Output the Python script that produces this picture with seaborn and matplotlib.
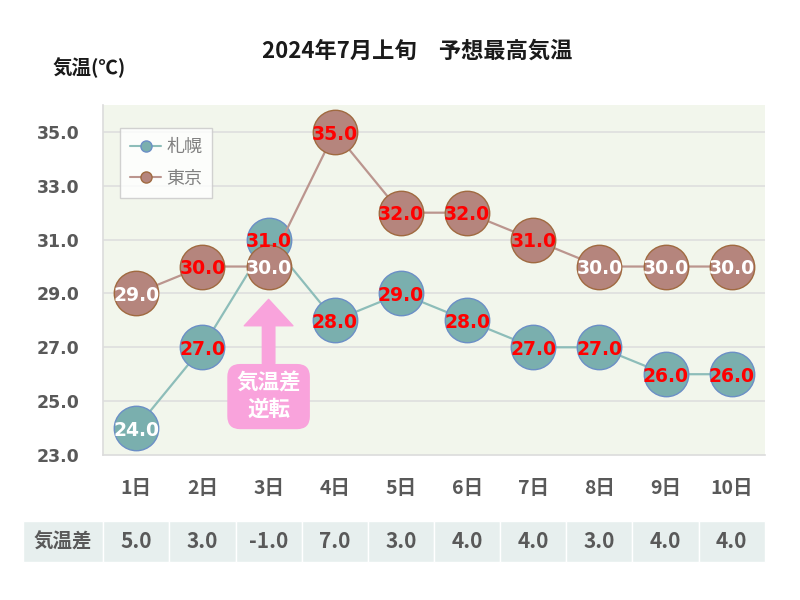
import matplotlib
matplotlib.use("Agg")
import matplotlib.pyplot as plt
import matplotlib.transforms as mtransforms
from matplotlib.patches import Rectangle
from matplotlib.lines import Line2D
import seaborn as sns
import pandas as pd

days = ["1日", "2日", "3日", "4日", "5日", "6日", "7日", "8日", "9日", "10日"]
sapporo = [24.0, 27.0, 31.0, 28.0, 29.0, 28.0, 27.0, 27.0, 26.0, 26.0]
tokyo = [29.0, 30.0, 30.0, 35.0, 32.0, 32.0, 31.0, 30.0, 30.0, 30.0]
diff = [5.0, 3.0, -1.0, 7.0, 3.0, 4.0, 4.0, 3.0, 4.0, 4.0]
yticks = [23.0, 25.0, 27.0, 29.0, 31.0, 33.0, 35.0]

# styles
sap_label_col = ["white"] + ["red"] * 9
tok_label_col = ["white", "red", "white", "red", "red", "red", "red", "white", "white", "white"]

sns.set_theme(style="white")
plt.rcParams["font.family"] = ["Noto Sans CJK JP", "DejaVu Sans"]

x = list(range(1, len(days) + 1))
df = pd.DataFrame({"x": x * 2, "val": sapporo + tokyo,
                   "city": ["札幌"] * len(x) + ["東京"] * len(x)})

fig = plt.figure(figsize=(8, 6), dpi=100)
ax = fig.add_axes([0.129, 0.2417, 0.827, 0.5833])
ax.set_facecolor("#f2f6ec")

sap_fill, sap_edge, sap_line = "#7aafae", "#6b8fc6", "#8dbdb9"
tok_fill, tok_edge, tok_line = "#b5857d", "#a06a40", "#bb958e"

sns.lineplot(data=df[df.city == "札幌"], x="x", y="val", ax=ax, color=sap_line,
             lw=1.6, marker="o", markersize=32, markerfacecolor=sap_fill,
             markeredgecolor=sap_edge, markeredgewidth=1.0, zorder=3)
sns.lineplot(data=df[df.city == "東京"], x="x", y="val", ax=ax, color=tok_line,
             lw=1.6, marker="o", markersize=32, markerfacecolor=tok_fill,
             markeredgecolor=tok_edge, markeredgewidth=1.0, zorder=4)

for xi, v, c in zip(x, sapporo, sap_label_col):
    ax.text(xi, v - 0.08, f"{v:.1f}", ha="center", va="center", color=c,
            fontsize=13.5, fontweight="bold", family="DejaVu Sans", zorder=5)
for xi, v, c in zip(x, tokyo, tok_label_col):
    ax.text(xi, v - 0.08, f"{v:.1f}", ha="center", va="center", color=c,
            fontsize=13.5, fontweight="bold", family="DejaVu Sans", zorder=6)

ax.set_xlim(0.5, 10.5)
ax.set_ylim(23, 36)
ax.set_yticks(yticks)
ax.set_yticklabels([f"{t:.1f}" for t in yticks], fontsize=12.5, fontweight="bold",
                   color="#595959", family="DejaVu Sans")
ax.set_xticks(x)
ax.set_xticklabels(days, fontsize=14, fontweight="bold", color="#595959")
ax.tick_params(axis="y", length=0, pad=17)
ax.tick_params(axis="x", length=0, pad=17)
ax.set_xlabel("")
ax.set_ylabel("")
for yv in yticks[1:]:
    ax.axhline(yv, color="#dedede", lw=1.2, zorder=1)
for s in ["top", "right"]:
    ax.spines[s].set_visible(False)
ax.spines["left"].set_color("#dcdcdc")
ax.spines["bottom"].set_color("#dcdcdc")
ax.spines["left"].set_linewidth(1.2)
ax.spines["bottom"].set_linewidth(1.2)

# legend
handles = [Line2D([0], [0], color=sap_line, lw=1.5, marker="o", markersize=8,
                  markerfacecolor=sap_fill, markeredgecolor=sap_edge),
           Line2D([0], [0], color=tok_line, lw=1.5, marker="o", markersize=8,
                  markerfacecolor=tok_fill, markeredgecolor=tok_edge)]
leg = ax.legend(handles, ["札幌", "東京"], loc="upper left",
                bbox_to_anchor=(0.026, 0.934), borderaxespad=0, frameon=True,
                fancybox=False, edgecolor="#c8c8c8", facecolor="white",
                fontsize=13, labelspacing=0.75, handlelength=1.7,
                handletextpad=0.3, borderpad=0.55)
leg.get_frame().set_linewidth(1.0)
for t in leg.get_texts():
    t.set_color("#808080")
# widen frame to the right like the reference
fig.canvas.draw()
bb = leg.get_frame().get_bbox()
leg.get_frame().set_bounds(bb.x0, bb.y0, bb.width + 14, bb.height)

# annotation
ax.annotate("", xy=(3, 28.78), xytext=(3, 26.4),
            arrowprops=dict(arrowstyle="simple,head_length=0.95,head_width=1.75,tail_width=0.45",
                            color="#f9a3dc", mutation_scale=20, shrinkA=0, shrinkB=0),
            zorder=2)
ax.text(3, 25.17, "気温差\n逆転", ha="center", va="center", color="white",
        fontsize=15.5, fontweight="bold", linespacing=1.3, zorder=2,
        bbox=dict(boxstyle="round,pad=0.42,rounding_size=0.6", fc="#f9a3dc", ec="none"))

# table row
trans = mtransforms.blended_transform_factory(ax.transData, ax.transAxes)
row_top, row_bot = -0.189, -0.306
cell_col = "#e7efee"
ax.add_patch(Rectangle((-0.71, row_bot), 1.2, row_top - row_bot, transform=trans,
                       facecolor=cell_col, edgecolor="white", lw=1.0, clip_on=False))
ax.text(-0.11, (row_top + row_bot) / 2, "気温差", transform=trans, ha="center",
        va="center", fontsize=14, fontweight="bold", color="#595959")
for xi, d in zip(x, diff):
    ax.add_patch(Rectangle((xi - 0.5, row_bot), 1.0, row_top - row_bot, transform=trans,
                           facecolor=cell_col, edgecolor="white", lw=1.0, clip_on=False))
    ax.text(xi, (row_top + row_bot) / 2, f"{d:.1f}", transform=trans, ha="center",
            va="center", fontsize=15, fontweight="bold", color="#595959")

fig.text(0.521, 0.915, "2024年7月上旬　予想最高気温", ha="center", va="center",
         fontsize=16, fontweight="bold", color="#1a1a1a")
fig.text(0.066, 0.887, "気温(℃)", ha="left", va="center",
         fontsize=14, fontweight="bold", color="#1a1a1a")

fig.savefig("out.png", dpi=100, facecolor="white")
